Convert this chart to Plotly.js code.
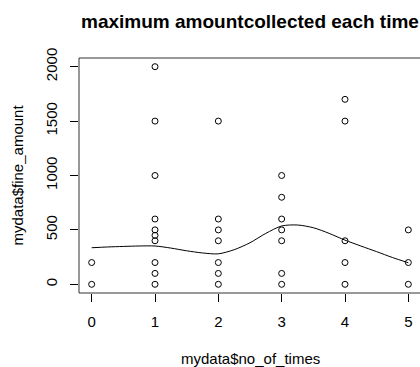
<!DOCTYPE html>
<html>
<head>
<meta charset="utf-8">
<script src="https://cdn.plot.ly/plotly-3.0.1.min.js"></script>
<style>
html,body{margin:0;padding:0;background:#fff;overflow:hidden;}
#chart{width:422px;height:367px;}
</style>
</head>
<body>
<div id="chart"></div>
<script>
// Scatter data (no_of_times vs fine_amount)
var noOfTimes = [0,0, 1,1,1,1,1,1,1,1,1,1, 2,2,2,2,2,2,2, 3,3,3,3,3,3,3, 4,4,4,4,4, 5,5,5];
var fineAmount = [0,200, 0,100,200,400,450,500,600,1000,1500,2000, 0,100,200,400,500,600,1500, 0,100,400,500,600,800,1000, 0,200,400,1500,1700, 0,200,500];

// Smoothed curve
var smoothX = [0,0.25,0.5,0.75,1,1.25,1.5,1.75,2,2.25,2.5,2.75,3,3.25,3.5,3.75,4,4.25,4.5,4.75,5];
var smoothY = [336,343,348,352,352,333,308,288,280,318,382,468,536,545,520,468,406,352,300,246,198];

var xTicks = [0,1,2,3,4,5];
var yTicks = [0,500,1000,1500,2000];

var titleText = 'maximum amountcollected each time';
var xTitle = 'mydata$no_of_times';
var yTitle = 'mydata$fine_amount';

var font = "Liberation Sans, Arial, sans-serif";

var traces = [
  {
    x: noOfTimes, y: fineAmount, type: 'scatter', mode: 'markers',
    marker: {symbol: 'circle-open', size: 6, color: '#000', line: {width: 1, color: '#000'}},
    hoverinfo: 'x+y'
  },
  {
    x: smoothX, y: smoothY, type: 'scatter', mode: 'lines',
    line: {color: '#000', width: 1, shape: 'spline', smoothing: 0.8},
    hoverinfo: 'skip'
  }
];

var layout = {
  width: 422, height: 367,
  margin: {l: 79, r: 1, t: 58, b: 74},
  paper_bgcolor: '#fff', plot_bgcolor: '#fff',
  showlegend: false,
  font: {family: font, size: 15, color: '#000'},
  title: {
    text: '<b>' + titleText + '</b>',
    font: {family: font, size: 19, color: '#000'},
    x: 0.5, xref: 'paper', xanchor: 'center',
    y: 1 - 21.5 / 367, yref: 'container', yanchor: 'middle'
  },
  xaxis: {
    range: [-0.2, 5.2], tickvals: xTicks, ticktext: xTicks.map(String),
    ticks: 'outside', ticklen: 8, tickcolor: '#000', tickwidth: 1,
    showgrid: false, zeroline: false, showline: false,
    ticklabelstandoff: 7,
    tickfont: {family: font, size: 15, color: '#000'}
  },
  yaxis: {
    range: [-80, 2080], tickvals: yTicks, ticktext: yTicks.map(String),
    ticks: 'outside', ticklen: 8, tickcolor: '#000', tickwidth: 1,
    tickangle: -90,
    showgrid: false, zeroline: false, showline: false,
    ticklabelstandoff: 7,
    tickfont: {family: font, size: 15, color: '#000'}
  },
  annotations: [
    {text: xTitle, xref: 'paper', yref: 'paper', x: 0.5, y: 0, yshift: -65,
     xanchor: 'center', yanchor: 'middle', showarrow: false,
     font: {family: font, size: 15, color: '#000'}},
    {text: yTitle, xref: 'paper', yref: 'paper', x: 0, y: 0.5, xshift: -62,
     xanchor: 'center', yanchor: 'middle', textangle: -90, showarrow: false,
     font: {family: font, size: 15, color: '#000'}}
  ],
  shapes: [
    {type: 'rect', xref: 'paper', yref: 'paper', x0: 0, x1: 1, y0: 0, y1: 1,
     line: {color: '#333', width: 1}, fillcolor: 'rgba(0,0,0,0)'}
  ]
};

Plotly.newPlot('chart', traces, layout, {displayModeBar: false, staticPlot: true});
</script>
</body>
</html>
